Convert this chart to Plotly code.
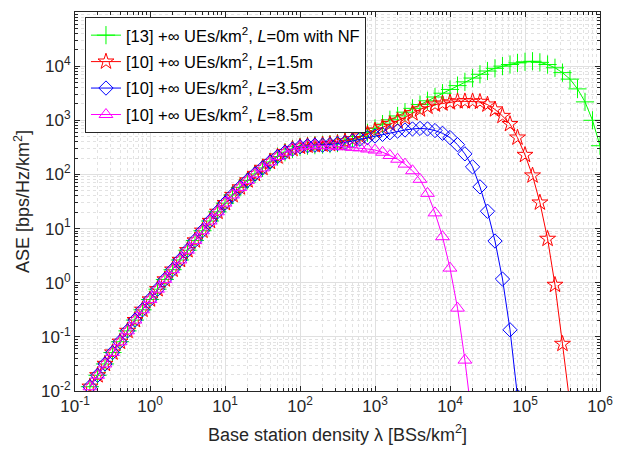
import plotly.graph_objects as go

# Base station density grid (BSs/km^2), 0.1-decade spacing
lam = [0.158, 0.200, 0.251, 0.316, 0.398, 0.501, 0.631, 0.794,
       1.00, 1.26, 1.58, 2.00, 2.51, 3.16, 3.98, 5.01, 6.31, 7.94,
       10.0, 12.6, 15.8, 20.0, 25.1, 31.6, 39.8, 50.1, 63.1, 79.4,
       100, 126, 158, 200, 251, 316, 398, 501, 631, 794,
       1e3, 1.26e3, 1.58e3, 2.00e3, 2.51e3, 3.16e3, 3.98e3, 5.01e3, 6.31e3, 7.94e3,
       1e4, 1.26e4, 1.58e4, 2.00e4, 2.51e4, 3.16e4, 3.98e4, 5.01e4, 6.31e4, 7.94e4,
       1e5, 1.26e5, 1.58e5, 2.00e5, 2.51e5, 3.16e5, 3.98e5, 5.01e5, 6.31e5, 7.94e5,
       1e6]

# Common low-density part (lambda = 0.158 ... 158), shared by all curves
ase_common = [0.0120, 0.0195, 0.0316, 0.0513, 0.0813, 0.129, 0.204, 0.316,
              0.490, 0.759, 1.15, 1.74, 2.63, 3.98, 6.03, 9.12, 13.8, 20.4,
              29.5, 41.7, 57.5, 77.6, 102, 132, 170, 214, 257, 295,
              324, 339, 347]

# Tails from lambda = 200 onwards
ase_L0_NF = [355, 363, 380, 407, 447, 501, 589, 708, 851, 1023, 1202, 1413,
             1660, 1950, 2291, 2692, 3162, 3715, 4365, 5129, 6026, 7079, 8128,
             9120, 10000, 10715, 11482, 12023, 12303, 11749, 10715, 9333, 7586,
             5754, 3802, 2188, 1000, 339]
ase_L1p5 = [355, 363, 380, 407, 447, 501, 562, 646, 741, 851, 977, 1122, 1349,
            1585, 1778, 1950, 2042, 2138, 2239, 2239, 2239, 2188, 1950, 1585,
            1202, 851, 479, 229, 95.5, 30.2, 6.46, 0.912, 0.0741, 0.00562]
ase_L3p5 = [347, 355, 372, 389, 417, 447, 479, 513, 550, 589, 631, 661, 692,
            708, 692, 646, 575, 479, 355, 240, 138, 58.9, 20.9, 5.89, 1.17,
            0.135, 0.00794]
ase_L8p5 = [339, 339, 331, 324, 316, 309, 295, 282, 257, 224, 191, 155, 117,
            81.3, 44.7, 19.5, 7.08, 1.86, 0.339, 0.0372, 0.00251]

names = [
    "[13] +∞ UEs/km<sup>2</sup>, <i>L</i>=0m with NF",
    "[10] +∞ UEs/km<sup>2</sup>, <i>L</i>=1.5m",
    "[10] +∞ UEs/km<sup>2</sup>, <i>L</i>=3.5m",
    "[10] +∞ UEs/km<sup>2</sup>, <i>L</i>=8.5m",
]
colors = ["#00ff00", "#ff0000", "#0000ff", "#ff00ff"]
symbols = ["cross-thin-open", "star-open", "diamond-open", "triangle-up-open"]
sizes = [13, 12, 11, 12]
tails = [ase_L0_NF, ase_L1p5, ase_L3p5, ase_L8p5]

fig = go.Figure()
for i, (name, col, sym, sz, tail) in enumerate(zip(names, colors, symbols, sizes, tails)):
    y = ase_common + tail
    x = lam[:len(y)]
    fig.add_trace(go.Scatter(
        x=x, y=y, name=name, mode="lines+markers", legendgroup="g%d" % i,
        line=dict(color=col, width=1),
        marker=dict(symbol=sym, size=sz, color=col,
                    line=dict(color=col, width=1)),
    ))

axcol = "#262626"
font = "Liberation Sans, Arial, sans-serif"

def decade_text(e):
    return "10<sup>%d</sup>" % e

xt = list(range(-1, 7))
yt = list(range(-2, 6))
xminor = [m * 10 ** e for e in range(-1, 6) for m in range(2, 10)]
yminor = [m * 10 ** e for e in range(-2, 5) for m in range(2, 10)]

common_axis = dict(
    type="log", showline=True, mirror="allticks", linecolor=axcol, linewidth=1,
    ticks="inside", ticklen=5, tickcolor=axcol, tickwidth=1,
    showgrid=True, gridcolor="#e0e0e0", gridwidth=1, zeroline=False,
    tickfont=dict(family=font, size=17, color=axcol),
)

fig.update_xaxes(
    **common_axis, range=[-1, 6],
    tickmode="array", tickvals=[10 ** e for e in xt], ticktext=[decade_text(e) for e in xt],
    minor=dict(tickmode="array", tickvals=xminor, ticks="inside", ticklen=3,
               tickcolor=axcol, showgrid=True, gridcolor="#e2e2e2", griddash="dot", gridwidth=1),
    title=dict(text="Base station density λ [BSs/km<sup>2</sup>]",
               font=dict(family=font, size=18, color=axcol), standoff=12),
)
fig.update_yaxes(
    **common_axis, range=[-2, 5],
    tickmode="array", tickvals=[10 ** e for e in yt], ticktext=[decade_text(e) for e in yt],
    minor=dict(tickmode="array", tickvals=yminor, ticks="inside", ticklen=3,
               tickcolor=axcol, showgrid=True, gridcolor="#e2e2e2", griddash="dot", gridwidth=1),
    title=dict(text="ASE [bps/Hz/km<sup>2</sup>]",
               font=dict(family=font, size=18, color=axcol), standoff=6),
)

fig.update_layout(
    width=636, height=457,
    margin=dict(l=75, r=36, t=12, b=66),
    paper_bgcolor="white", plot_bgcolor="white",
    font=dict(family=font, size=16.5, color="#000000"),
    showlegend=True,
    legend=dict(x=0.019, y=0.987, xanchor="left", yanchor="top",
                bgcolor="white", bordercolor=axcol, borderwidth=1,
                font=dict(family=font, size=16.5, color="#000000"),
                itemwidth=30, tracegroupgap=2),
)

fig.write_html("out.html")
